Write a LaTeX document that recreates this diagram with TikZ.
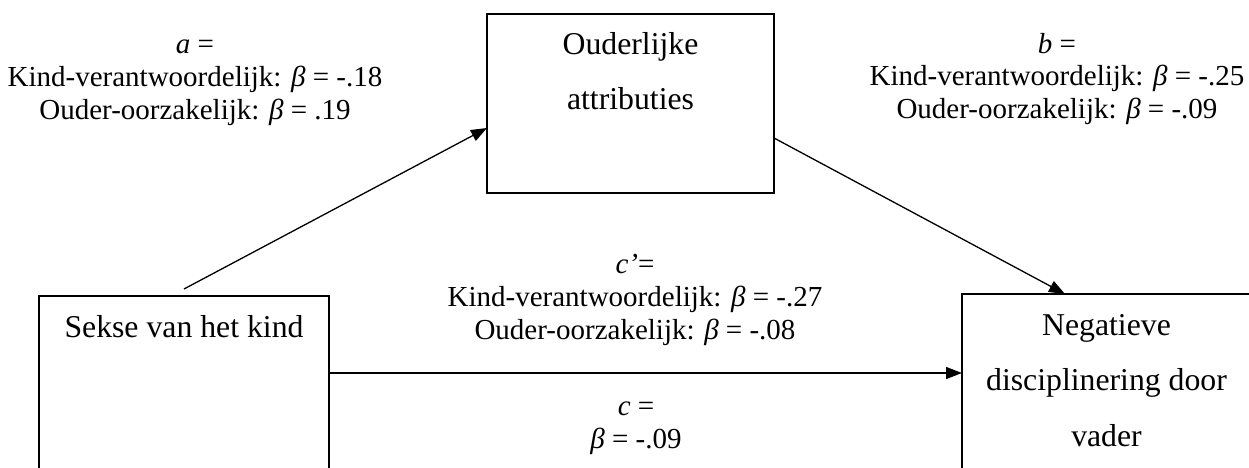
\documentclass[tikz,border=0pt]{standalone}
\usepackage{fontspec}
\setmainfont{Liberation Serif}
\usetikzlibrary{arrows.meta}
\begin{document}
\begin{tikzpicture}[x=1pt,y=-1pt,
  box/.style={draw, line width=2.4pt, inner sep=0pt, outer sep=0pt},
  boxtext/.style={inner sep=0pt, align=center, font=\fontsize{31.75}{55.5}\selectfont},
  lbl/.style={inner sep=0pt, align=center, font=\fontsize{29}{33}\selectfont},
  arr/.style={line width=1.3pt, -{Triangle[length=16pt,width=12pt]}}]
\useasboundingbox (0,0) rectangle (1249,468);
\clip (0,0) rectangle (1249,468);
% boxes
\node[box, minimum width=290pt, minimum height=260pt, anchor=north west] (sex) at (39,296) {};
\node[box, minimum width=287pt, minimum height=179pt, anchor=north west] (attr) at (487,14) {};
\node[box, minimum width=300pt, minimum height=260pt, anchor=north west] (disc) at (962,294) {};
% box texts
\node[boxtext, anchor=base] (sext) at (184,337) {Sekse van het kind};
\node[boxtext, anchor=base] (attrt) at (630.5,110) {Ouderlijke\\attributies};
\node[boxtext, anchor=base] (disct) at (1106.5,446) {Negatieve\\disciplinering door\\vader};
% labels
\node[lbl, anchor=base] (la) at (195,120) {\textit{a} =\\Kind-verantwoordelijk: \textit{β} = -.18\\Ouder-oorzakelijk: \textit{β} = .19};
\node[lbl, anchor=base] (lb) at (1057,119) {\textit{b} =\\Kind-verantwoordelijk: \textit{β} = -.25\\Ouder-oorzakelijk: \textit{β} = -.09};
\node[lbl, anchor=base] (lcp) at (635,339) {\textit{c’}=\\Kind-verantwoordelijk: \textit{β} = -.27\\Ouder-oorzakelijk: \textit{β} = -.08};
\node[lbl, anchor=base] (lc) at (636,448) {\textit{c} =\\\textit{β} = -.09};
% connectors
\coordinate (astart) at ([yshift=7pt]sex.north);
\draw[arr] (astart) -- ([yshift=-24.5pt]attr.west);
\draw[arr] ([yshift=-34.5pt]attr.east) -- ([xshift=103pt]disc.north west);
\draw[arr] ([yshift=-77pt]sex.north east) -- ([yshift=-79pt]disc.north west);
\end{tikzpicture}
\end{document}
